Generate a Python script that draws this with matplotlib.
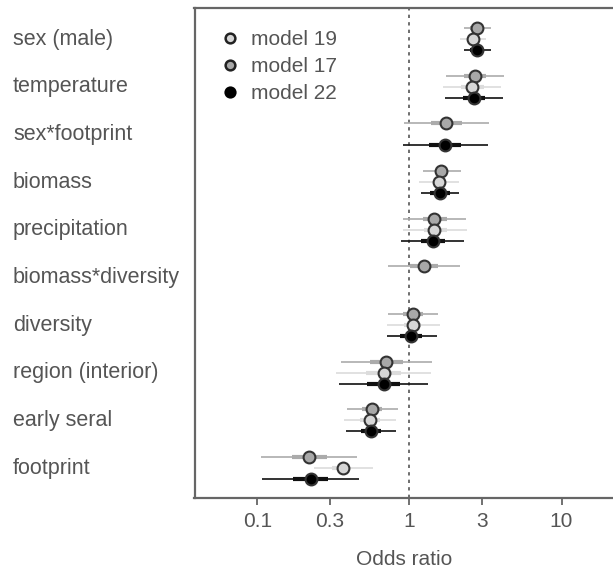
import matplotlib
matplotlib.use("Agg")
import matplotlib.pyplot as plt
from matplotlib.lines import Line2D
import numpy as np

plt.rcParams['font.family'] = ['Liberation Sans', 'DejaVu Sans']

nan = np.nan
terms = ['sex (male)', 'temperature', 'sex*footprint', 'biomass', 'precipitation',
         'biomass*diversity', 'diversity', 'region (interior)', 'early seral', 'footprint']

# odds ratio estimates, outer (thin) and inner (thick) intervals
m17_est = [2.79, 2.71, 1.75, 1.62, 1.46, 1.24, 1.06, 0.706, 0.568, 0.219]
m17_lo = [2.27, 1.74, 0.923, 1.22, 0.905, 0.724, 0.724, 0.357, 0.391, 0.105]
m17_hi = [3.45, 4.20, 3.33, 2.17, 2.36, 2.15, 1.55, 1.40, 0.839, 0.455]
m17_lo50 = [2.51, 2.27, 1.38, 1.48, 1.22, 1.01, 0.913, 0.551, 0.486, 0.168]
m17_hi50 = [3.10, 3.20, 2.21, 1.80, 1.76, 1.54, 1.22, 0.905, 0.658, 0.286]

m19_est = [2.63, 2.57, nan, 1.56, 1.46, nan, 1.05, 0.679, 0.551, 0.365]
m19_lo = [2.16, 1.67, nan, 1.16, 0.905, nan, 0.710, 0.330, 0.372, 0.234]
m19_hi = [3.20, 3.99, nan, 2.11, 2.39, nan, 1.58, 1.38, 0.821, 0.574]
m19_lo50 = [2.40, 2.19, nan, 1.42, 1.24, nan, 0.92, 0.519, 0.474, 0.309]
m19_hi50 = [2.90, 3.07, nan, 1.75, 1.76, nan, 1.20, 0.878, 0.641, 0.388]

m22_est = [2.79, 2.65, 1.72, 1.59, 1.42, nan, 1.03, 0.679, 0.557, 0.225]
m22_lo = [2.27, 1.71, 0.909, 1.19, 0.882, nan, 0.710, 0.345, 0.382, 0.108]
m22_hi = [3.45, 4.12, 3.28, 2.13, 2.30, nan, 1.51, 1.33, 0.821, 0.467]
m22_lo50 = [2.51, 2.25, 1.35, 1.37, 1.19, nan, 0.87, 0.525, 0.481, 0.171]
m22_hi50 = [3.10, 3.15, 2.19, 1.85, 1.72, nan, 1.21, 0.869, 0.652, 0.293]

models = [
    # label, est, lo, hi, lo50, hi50, offset, fill, line colour
    ('model 17', m17_est, m17_lo, m17_hi, m17_lo50, m17_hi50, -0.23, '#a8a8a8', '#ababab'),
    ('model 19', m19_est, m19_lo, m19_hi, m19_lo50, m19_hi50, 0.0, '#d6d6d6', '#dcdcdc'),
    ('model 22', m22_est, m22_lo, m22_hi, m22_lo50, m22_hi50, 0.23, '#000000', '#111111'),
]

txt = '#555555'
spine = '#666666'

fig = plt.figure(figsize=(6.13, 5.69), dpi=100)
ax = fig.add_axes([194.5 / 613, 71.3 / 569, 418.5 / 613, 489.4 / 569])

y = np.arange(len(terms))
ax.axvline(1, color='#555555', lw=1.2, ls=(0, (2, 2.5)), zorder=1)

for lab, est, lo, hi, lo50, hi50, off, fc, lc in models:
    yy = y + off
    ax.hlines(yy, lo, hi, color=lc, lw=1.2, zorder=2)
    ax.hlines(yy, lo50, hi50, color=lc, lw=3, zorder=2)
    ax.plot(est, yy, 'o', ms=8.5, mfc=fc, mec='#333333', mew=1.5, ls='none', zorder=3)

ax.set_xscale('log')
ax.set_xlim(0.0386, 21.8)
ax.set_ylim(9.623, -0.644)
ax.set_xticks([0.1, 0.3, 1, 3, 10])
ax.set_xticklabels(['0.1', '0.3', '1', '3', '10'])
ax.xaxis.set_minor_locator(matplotlib.ticker.NullLocator())
ax.set_yticks([])
ax.tick_params(axis='x', colors=spine, labelcolor=txt, labelsize=15, length=5, width=1.3, pad=5)
ax.set_xlabel('Odds ratio', color=txt, fontsize=15, labelpad=14)

for s in ['top', 'left', 'bottom']:
    ax.spines[s].set_color(spine)
    ax.spines[s].set_linewidth(1.6)
ax.spines['right'].set_visible(False)

for i, t in enumerate(terms):
    fig.text(13 / 613, 1 - (39 + 47.67 * i) / 569, t, color=txt, fontsize=15.5, va='center', ha='left')

handles = [
    Line2D([], [], marker='o', ls='none', ms=7, mfc='#d6d6d6', mec='#222222', mew=1.8),
    Line2D([], [], marker='o', ls='none', ms=7, mfc='#a8a8a8', mec='#222222', mew=1.8),
    Line2D([], [], marker='o', ls='none', ms=7, mfc='#000000', mec='#000000', mew=1.8),
]
leg = ax.legend(handles, ['model 19', 'model 17', 'model 22'], loc='upper left',
                bbox_to_anchor=(220 / 613, 1 - 30 / 569), bbox_transform=fig.transFigure,
                frameon=False, fontsize=15, handlelength=1.0, handletextpad=0.5,
                labelspacing=0.38, borderaxespad=0, borderpad=0)
for t in leg.get_texts():
    t.set_color(txt)

fig.savefig('out.png', dpi=100)
